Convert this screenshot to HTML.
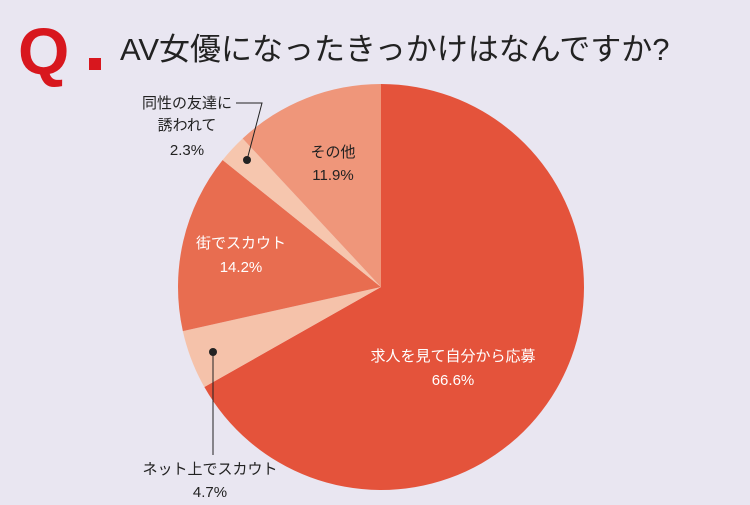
<!DOCTYPE html>
<html><head><meta charset="utf-8"><style>
body{margin:0;width:750px;height:505px;background:#e9e6f1;overflow:hidden;font-family:"Liberation Sans","Noto Sans CJK JP",sans-serif;}
svg{position:absolute;left:0;top:0}
</style></head><body>
<svg width="750" height="505">
<text x="18" y="74" font-size="66" font-weight="bold" fill="#d8171e" font-family="Liberation Sans, sans-serif">Q</text>
<rect x="89" y="58" width="12" height="12" fill="#d8171e"/>
<text x="120" y="60" font-size="31" fill="#222">AV女優になったきっかけはなんですか?</text>
<g id="slices"></g>
<g id="labels"></g>
<g>
<polyline points="236,103 262,103 247,160" fill="none" stroke="#222" stroke-width="1"/>
<circle cx="247" cy="160" r="4" fill="#222"/>
<line x1="213" y1="352" x2="213" y2="455" stroke="#222" stroke-width="1"/>
<circle cx="213" cy="352" r="4" fill="#222"/>
</g>
</svg>
<script>
const categories=["求人を見て自分から応募","ネット上でスカウト","街でスカウト","同性の友達に誘われて","その他"];
const values=[66.6,4.7,14.2,2.3,11.9];
const valueLabels=["66.6%","4.7%","14.2%","2.3%","11.9%"];
const colors=["#e4533b","#f5c2aa","#e86d50","#f6c6ae","#ef967a"];
const cx=381,cy=287,r=203;
const NS="http://www.w3.org/2000/svg";
const total=values.reduce((a,b)=>a+b,0);
function pt(frac,rad){const a=frac*2*Math.PI;return [cx+rad*Math.sin(a),cy-rad*Math.cos(a)];}
const g=document.getElementById('slices');
let acc=0;
values.forEach((v,i)=>{
 const f0=acc/total,f1=(acc+v)/total;acc+=v;
 const [x0,y0]=pt(f0,r),[x1,y1]=pt(f1,r);
 const p=document.createElementNS(NS,'path');
 p.setAttribute('d',`M${cx},${cy}L${x0},${y0}A${r},${r} 0 ${f1-f0>0.5?1:0} 1 ${x1},${y1}Z`);
 p.setAttribute('fill',colors[i]);
 
 
 g.appendChild(p);
});
const lg=document.getElementById('labels');
function txt(x,y,s,fill,name){const t=document.createElementNS(NS,'text');t.setAttribute('x',x);t.setAttribute('y',y);t.setAttribute('text-anchor','middle');t.setAttribute('font-size','15');t.setAttribute('fill',fill);t.textContent=s;
 
 
 lg.appendChild(t);}
txt(453,361,categories[0],"#fff","label-apply");txt(453,385,valueLabels[0],"#fff","value-apply");
txt(210,474,categories[1],"#222","label-net-scout");txt(210,497,valueLabels[1],"#222","value-net-scout");
txt(241,248,"街でスカウト","#fff","label-street-scout");txt(241,272,valueLabels[2],"#fff","value-street-scout");
txt(187,108,"同性の友達に","#222","label-friend-1");txt(187,130,"誘われて","#222","label-friend-2");txt(187,155,valueLabels[3],"#222","value-friend");
txt(333,157,categories[4],"#222","label-other");txt(333,180,valueLabels[4],"#222","value-other");
</script>
</body></html>
